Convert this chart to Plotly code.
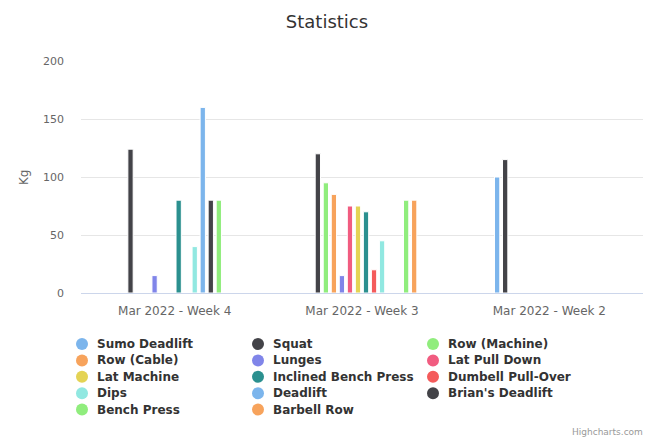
import plotly.graph_objects as go

categories = ["Mar 2022 - Week 4", "Mar 2022 - Week 3", "Mar 2022 - Week 2"]

series_names = [
    "Sumo Deadlift", "Squat", "Row (Machine)", "Row (Cable)", "Lunges",
    "Lat Pull Down", "Lat Machine", "Inclined Bench Press", "Dumbell Pull-Over",
    "Dips", "Deadlift", "Brian's Deadlift", "Bench Press", "Barbell Row",
]

sumo_deadlift = [None, None, 100]
squat = [124, 120, 115]
row_machine = [None, 95, None]
row_cable = [None, 85, None]
lunges = [15, 15, None]
lat_pull_down = [None, 75, None]
lat_machine = [None, 75, None]
inclined_bench_press = [80, 70, None]
dumbell_pull_over = [None, 20, None]
dips = [40, 45, None]
deadlift = [160, None, None]
brians_deadlift = [80, None, None]
bench_press = [80, 80, None]
barbell_row = [None, 80, None]

series_values = [
    sumo_deadlift, squat, row_machine, row_cable, lunges, lat_pull_down,
    lat_machine, inclined_bench_press, dumbell_pull_over, dips, deadlift,
    brians_deadlift, bench_press, barbell_row,
]

colors = [
    "#7cb5ec", "#434348", "#90ed7d", "#f7a35c", "#8085e9", "#f15c80",
    "#e4d354", "#2b908f", "#f45b5b", "#91e8e1", "#7cb5ec", "#434348",
    "#90ed7d", "#f7a35c",
]

y_ticks = [0, 50, 100, 150, 200]

FONT = "DejaVu Sans"
W, H = 654, 444
L, R, T, B = 81, 11, 61, 151
PW, PH = W - L - R, H - T - B


def px_x(px):
    return (px - L) / PW


def px_y(py):
    return (H - B - py) / PH


fig = go.Figure()

for name, vals, col in zip(series_names, series_values, colors):
    fig.add_trace(go.Bar(
        x=categories, y=vals, name=name, showlegend=False,
        marker=dict(color=col, line=dict(color="white", width=1)),
    ))

# Legend drawn as circles + text, 3 columns, row-major like Highcharts
legend_col_marker = [82, 258, 433]
legend_row0, legend_row_step = 344, 16.4
shapes = []
annotations = []
for i, (name, col) in enumerate(zip(series_names, colors)):
    r, c = divmod(i, 3)
    cx = legend_col_marker[c]
    cy = legend_row0 + r * legend_row_step
    shapes.append(dict(
        type="circle", xref="paper", yref="paper",
        xsizemode="pixel", ysizemode="pixel",
        xanchor=px_x(cx), yanchor=px_y(cy),
        x0=-6, x1=6, y0=-6, y1=6,
        fillcolor=col, line=dict(width=0),
    ))
    annotations.append(dict(
        text=name, xref="paper", yref="paper",
        x=px_x(cx + 13), y=px_y(cy), xanchor="left", yanchor="middle",
        showarrow=False,
        font=dict(family=FONT, size=12, color="#333333", weight="bold"),
    ))

annotations += [
    dict(
        text="Kg", textangle=-90, xref="paper", yref="paper",
        x=px_x(24), y=0.5, xanchor="center", yanchor="middle",
        showarrow=False, font=dict(family=FONT, size=12, color="#666666"),
    ),
    dict(
        text="Highcharts.com", xref="paper", yref="paper",
        x=px_x(645), xanchor="right", y=px_y(432), yanchor="middle",
        showarrow=False, font=dict(family=FONT, size=9, color="#999999"),
    ),
]

fig.update_layout(
    width=W, height=H,
    margin=dict(l=L, r=R, t=T, b=B, pad=0, autoexpand=False),
    paper_bgcolor="white", plot_bgcolor="white",
    font=dict(family=FONT, color="#666666", size=11),
    barmode="group",
    bargap=0.40,
    bargroupgap=0.34,
    title=dict(
        text="Statistics", x=0.5, xanchor="center", xref="container",
        y=1 - 22 / H, yanchor="middle", yref="container",
        font=dict(family=FONT, size=18, color="#333333"),
    ),
    showlegend=False,
    xaxis=dict(
        type="category",
        categoryorder="array", categoryarray=categories,
        showgrid=False, zeroline=False,
        showline=True, linecolor="#ccd6eb", linewidth=1,
        ticks="", ticklabelstandoff=7,
        tickfont=dict(family=FONT, size=12, color="#666666"),
        fixedrange=True,
    ),
    yaxis=dict(
        range=[0, 200], tickvals=y_ticks,
        showgrid=True, gridcolor="#e6e6e6", gridwidth=1,
        zeroline=False, showline=False,
        ticks="", ticklabelstandoff=16,
        tickfont=dict(family=FONT, size=11, color="#666666"),
        fixedrange=True,
    ),
    shapes=shapes,
    annotations=annotations,
)

fig.write_html(
    "out.html",
    config={"displayModeBar": False},
    post_script="document.body.style.margin='0px';document.body.style.padding='0px';",
)
